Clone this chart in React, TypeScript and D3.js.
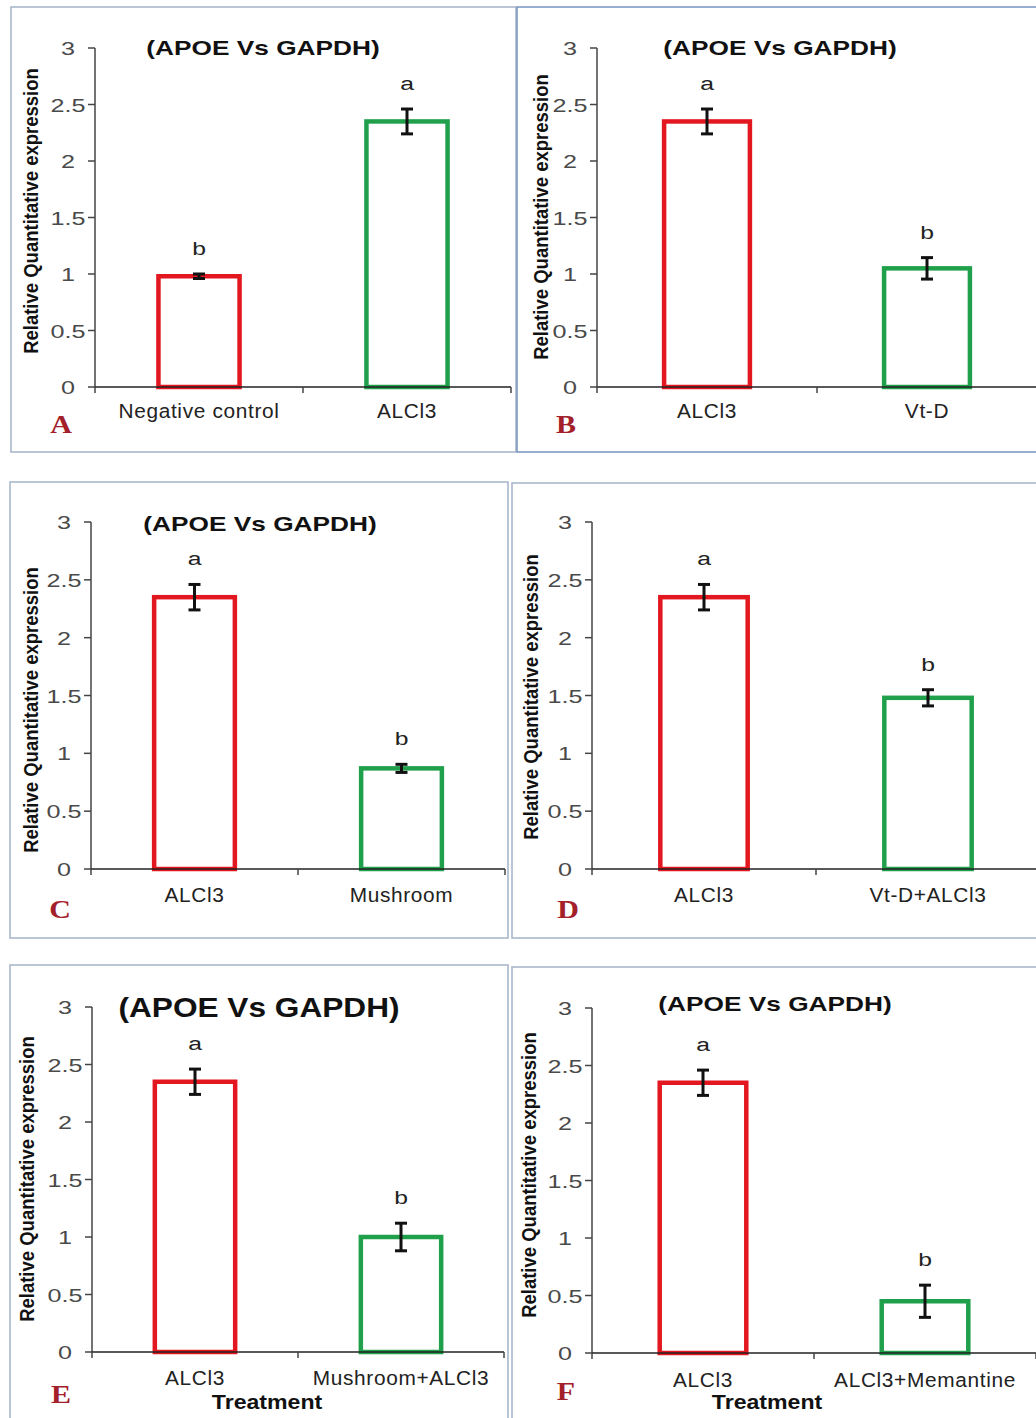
import React from 'react';
import * as d3 from 'd3';

// ---------- data ----------
const panelIds = ['A', 'B', 'C', 'D', 'E', 'F'];
const titleText = '(APOE Vs GAPDH)';
const yLabelText = 'Relative Quantitative expression';
const xLabelText = 'Treatment';
const yTicks = [0, 0.5, 1, 1.5, 2, 2.5, 3];

const catsA = ['Negative control', 'ALCl3'];
const valsA = [0.98, 2.35];
const errsA = [0.02, 0.11];
const sigA = ['b', 'a'];

const catsB = ['ALCl3', 'Vt-D'];
const valsB = [2.35, 1.05];
const errsB = [0.11, 0.095];
const sigB = ['a', 'b'];

const catsC = ['ALCl3', 'Mushroom'];
const valsC = [2.35, 0.87];
const errsC = [0.11, 0.035];
const sigC = ['a', 'b'];

const catsD = ['ALCl3', 'Vt-D+ALCl3'];
const valsD = [2.35, 1.48];
const errsD = [0.11, 0.07];
const sigD = ['a', 'b'];

const catsE = ['ALCl3', 'Mushroom+ALCl3'];
const valsE = [2.35, 1.0];
const errsE = [0.11, 0.12];
const sigE = ['a', 'b'];

const catsF = ['ALCl3', 'ALCl3+Memantine'];
const valsF = [2.35, 0.45];
const errsF = [0.11, 0.14];
const sigF = ['a', 'b'];

const barColors = ['#E3171F', '#21A04C'];

// ---------- layout ----------
const layouts = [
  { frame: [11, 7, 505, 445], frameStroke: '#A9B8CC', axisX: 95, midX: 303, y0: 387, y3: 48, title: [263, 55, 21, 1.25], yl: [38, 211], letter: [61, 433], catY: 418, xl: null },
  { frame: [517, 7, 530, 445], frameStroke: '#7F9AC4', axisX: 597, midX: 817, y0: 387, y3: 48, title: [780, 55, 21, 1.25], yl: [548, 217], letter: [566, 433], catY: 418, xl: null },
  { frame: [10, 482, 498, 456], frameStroke: '#A9B8CC', axisX: 91, midX: 298, y0: 869, y3: 522, title: [260, 531, 21, 1.25], yl: [38, 710], letter: [60, 918], catY: 902, xl: null },
  { frame: [512, 483, 530, 455], frameStroke: '#A9B8CC', axisX: 592, midX: 816, y0: 869, y3: 522, title: null, yl: [538, 697], letter: [568, 918], catY: 902, xl: null },
  { frame: [10, 965, 498, 460], frameStroke: '#A9B8CC', axisX: 92, midX: 298, y0: 1352, y3: 1007, title: [259, 1017, 28, 1.13], yl: [34, 1179], letter: [61, 1403], catY: 1385, xl: [267, 1409] },
  { frame: [512, 967, 530, 460], frameStroke: '#A9B8CC', axisX: 592, midX: 814, y0: 1353, y3: 1008, title: [775, 1011, 21, 1.25], yl: [536, 1175], letter: [566, 1400], catY: 1387, xl: [767, 1409] },
];

const panelData = [
  { cats: catsA, vals: valsA, errs: errsA, sig: sigA },
  { cats: catsB, vals: valsB, errs: errsB, sig: sigB },
  { cats: catsC, vals: valsC, errs: errsC, sig: sigC },
  { cats: catsD, vals: valsD, errs: errsD, sig: sigD },
  { cats: catsE, vals: valsE, errs: errsE, sig: sigE },
  { cats: catsF, vals: valsF, errs: errsF, sig: sigF },
];

const SANS = '"Liberation Sans", Arial, sans-serif';
const SERIF = '"Liberation Serif", "Times New Roman", serif';

function T({ x, y, sx = 1, rot = 0, children, ...rest }: any) {
  const tr = `translate(${x},${y}) scale(${sx},1)` + (rot ? ` rotate(${rot})` : '');
  return (
    <text transform={tr} fontFamily={SANS} {...rest}>
      {children}
    </text>
  );
}

function Panel({ id, d, L }: any) {
  const y = d3.scaleLinear().domain([0, 3]).range([L.y0, L.y3]);
  const x = d3
    .scaleBand<string>()
    .domain(d.cats)
    .range([L.axisX, L.axisX + 2 * (L.midX - L.axisX)])
    .padding(0);
  const bw = x.bandwidth();
  const barW = bw * 0.39;
  const [fx, fy, fw, fh] = L.frame;
  const xr = x.range();
  const xTicks = [xr[0], (xr[0] + xr[1]) / 2, xr[1]];
  return (
    <g>
      <rect x={fx} y={fy} width={fw} height={fh} fill="#fff" stroke={L.frameStroke} strokeWidth={1.6} />
      {L.title && (
        <T x={L.title[0]} y={L.title[1]} sx={L.title[3]} fontSize={L.title[2]} fontWeight="bold" textAnchor="middle" fill="#111">
          {titleText}
        </T>
      )}
      {/* bars */}
      {d.cats.map((c: string, i: number) => {
        const cx = (x(c) as number) + bw / 2;
        const v = d.vals[i];
        const e = d.errs[i];
        return (
          <g key={c}>
            <rect
              x={cx - barW / 2}
              y={y(v)}
              width={barW}
              height={y(0) - y(v)}
              fill="#fff"
              stroke={barColors[i]}
              strokeWidth={4.5}
            />
            <line x1={cx} x2={cx} y1={y(v + e)} y2={y(v - e)} stroke="#111" strokeWidth={3} />
            <line x1={cx - 6} x2={cx + 6} y1={y(v + e)} y2={y(v + e)} stroke="#111" strokeWidth={3} />
            <line x1={cx - 6} x2={cx + 6} y1={y(v - e)} y2={y(v - e)} stroke="#111" strokeWidth={3} />
            <T x={cx} y={y(v + e) - 19} sx={1.3} fontSize={19} textAnchor="middle" fill="#222">
              {d.sig[i]}
            </T>
            <T x={cx} y={L.catY} sx={1.07} fontSize={19.5} textAnchor="middle" fill="#222" letterSpacing={0.6}>
              {c}
            </T>
          </g>
        );
      })}
      {/* y axis */}
      <line x1={L.axisX} x2={L.axisX} y1={y(3)} y2={y(0)} stroke="#444" strokeWidth={1.5} />
      {yTicks.map((t) => (
        <g key={t}>
          <line x1={L.axisX - 7} x2={L.axisX} y1={y(t)} y2={y(t)} stroke="#444" strokeWidth={1.5} />
          <T x={L.axisX - 27} y={y(t) + 7} sx={1.4} fontSize={18} textAnchor="middle" fill="#4a4a4a">
            {String(t)}
          </T>
        </g>
      ))}
      {/* x axis */}
      <line x1={xr[0]} x2={xr[1]} y1={y(0)} y2={y(0)} stroke="#222" strokeWidth={1.5} />
      {xTicks.map((t, i) => (
        <line key={i} x1={t} x2={t} y1={y(0)} y2={y(0) + 6} stroke="#444" strokeWidth={1.5} />
      ))}
      {/* y label */}
      <T x={L.yl[0]} y={L.yl[1]} sx={1.1} rot={-90} fontSize={18.5} fontWeight="bold" textAnchor="middle" fill="#111">
        {yLabelText}
      </T>
      {L.xl && (
        <T x={L.xl[0]} y={L.xl[1]} sx={1.1} fontSize={21} fontWeight="bold" textAnchor="middle" fill="#111">
          {xLabelText}
        </T>
      )}
      <T x={L.letter[0]} y={L.letter[1]} sx={1.2} fontSize={25} fontWeight="bold" textAnchor="middle" fill="#A3202A" fontFamily={SERIF}>
        {id}
      </T>
    </g>
  );
}

export default function App() {
  return (
    <svg
      width={1036}
      height={1418}
      viewBox="0 0 1036 1418"
      style={{ position: 'absolute', left: 0, top: 0, background: '#fff' }}
    >
      <rect x={0} y={0} width={1036} height={1418} fill="#fff" />
      {panelIds.map((id, i) => (
        <Panel key={id} id={id} d={panelData[i]} L={layouts[i]} />
      ))}
    </svg>
  );
}
